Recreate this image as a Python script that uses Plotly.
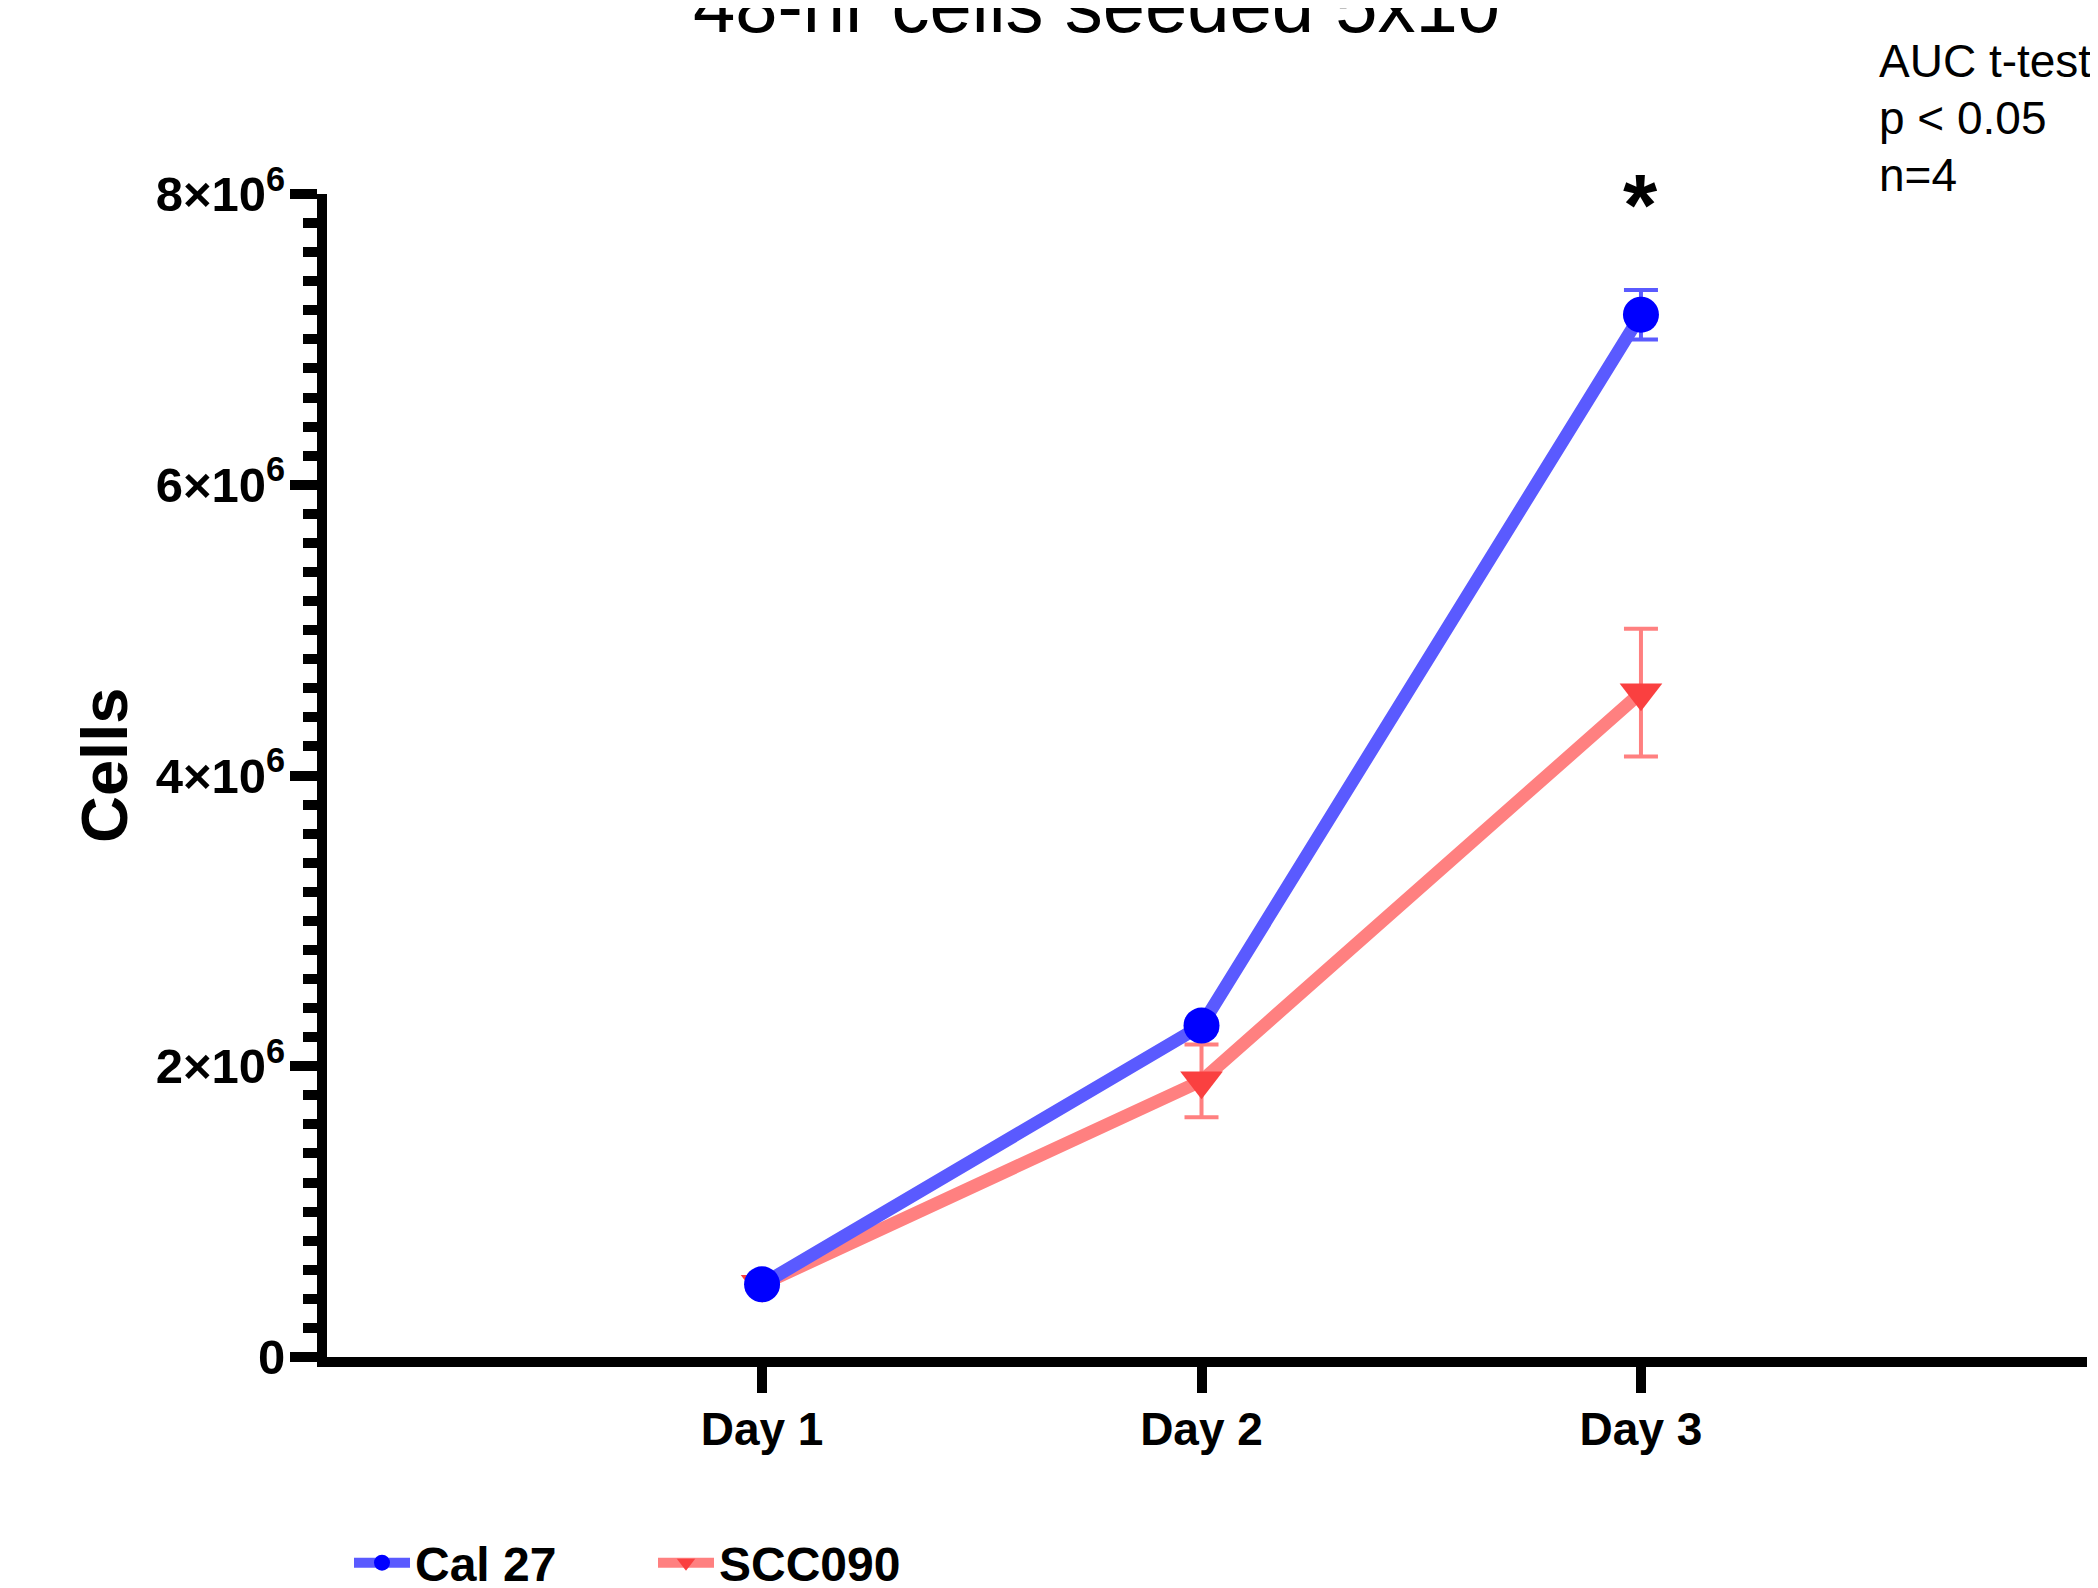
import plotly.graph_objects as go

# ---- data ----
days = ["Day 1", "Day 2", "Day 3"]
cal27_mean = [0.50e6, 2.28e6, 7.17e6]
cal27_err = [0.03e6, 0.03e6, 0.17e6]
scc090_mean = [0.50e6, 1.90e6, 4.57e6]
scc090_err = [0.03e6, 0.25e6, 0.44e6]
ytick_vals = [0, 2e6, 4e6, 6e6, 8e6]
ytick_text = ["0", "2×10<sup>6</sup>", "4×10<sup>6</sup>", "6×10<sup>6</sup>", "8×10<sup>6</sup>"]
stats_lines = ["AUC t-test", "p < 0.05", "n=4"]

# figure is placed at (8, 8) on the page by the default body margin
W, H = 2090, 1580
L, R, T, B = 319, 2079, 186, 1349
PW, PH = R - L, B - T


def px_x(p):
    return (p - L) / PW


def px_y(p):
    return (B - p) / PH


FONT = "Liberation Sans, Arial, sans-serif"

fig = go.Figure()

fig.add_trace(go.Scatter(
    x=days, y=scc090_mean, name="SCC090", mode="lines+markers",
    line=dict(color="#FF8080", width=13),
    marker=dict(symbol="triangle-down", size=37, color="#FA4040"),
    error_y=dict(type="data", array=scc090_err, color="#FF8080", thickness=4, width=17),
    legendrank=2,
))
fig.add_trace(go.Scatter(
    x=days, y=cal27_mean, name="Cal 27", mode="lines+markers",
    line=dict(color="#5A5AFF", width=13),
    marker=dict(symbol="circle", size=36, color="#0000FF"),
    error_y=dict(type="data", array=cal27_err, color="#5A5AFF", thickness=4, width=17),
    legendrank=1,
))

fig.update_layout(
    width=W, height=H, autosize=False,
    margin=dict(l=L, r=W - R, t=T, b=H - B, pad=0, autoexpand=False),
    paper_bgcolor="white", plot_bgcolor="white",
    font=dict(family=FONT, color="black"),
    showlegend=True,
    legend=dict(
        orientation="h", x=px_x(341), xanchor="left",
        yref="paper", y=px_y(1593), yanchor="bottom",
        font=dict(family=FONT, size=48, color="black", weight="bold"),
        itemwidth=56, entrywidth=233, entrywidthmode="pixels",
    ),
)

fig.update_xaxes(
    type="category", range=[-0.99, 3.015],
    showline=True, linewidth=10, linecolor="black",
    ticks="outside", ticklen=26, tickwidth=10, tickcolor="black",
    ticklabelstandoff=-3,
    tickfont=dict(family=FONT, size=46, color="black", weight="bold"),
    showgrid=False, zeroline=False,
)
fig.update_yaxes(
    range=[0, 8e6],
    tickvals=ytick_vals, ticktext=ytick_text,
    showline=True, linewidth=10, linecolor="black",
    ticks="outside", ticklen=27, tickwidth=10, tickcolor="black",
    ticklabelstandoff=-5,
    tickfont=dict(family=FONT, size=49, color="black", weight="bold"),
    minor=dict(dtick=2e5, tick0=0, ticks="outside", ticklen=14, tickwidth=10,
               tickcolor="black", showgrid=False),
    showgrid=False, zeroline=False,
)

# title (partly cut off at top in reference)
fig.add_annotation(
    text="48-hr cells seeded 5x10<sup>6</sup>", xref="paper", yref="paper",
    x=px_x(1103), y=px_y(42.5), xanchor="center", yanchor="bottom",
    showarrow=False, font=dict(family=FONT, size=76, color="black"),
)
# stats text, one line each
for line_text, top in zip(stats_lines, [25, 82, 139]):
    fig.add_annotation(
        text=line_text, xref="paper", yref="paper",
        x=px_x(1869), y=px_y(top), xanchor="left", yanchor="top", align="left",
        showarrow=False, font=dict(family=FONT, size=46, color="black"),
    )
# y-axis label
fig.add_annotation(
    text="<b>Cells</b>", xref="paper", yref="paper",
    x=px_x(96), y=px_y(758), xanchor="center", yanchor="middle",
    textangle=-90, showarrow=False, font=dict(family=FONT, size=65, color="black"),
)
# significance asterisk
fig.add_annotation(
    text="<b>*</b>", xref="x", yref="paper",
    x="Day 3", y=px_y(248), xanchor="center", yanchor="bottom",
    showarrow=False, font=dict(family=FONT, size=88, color="black"),
)

fig.write_html("out.html")
